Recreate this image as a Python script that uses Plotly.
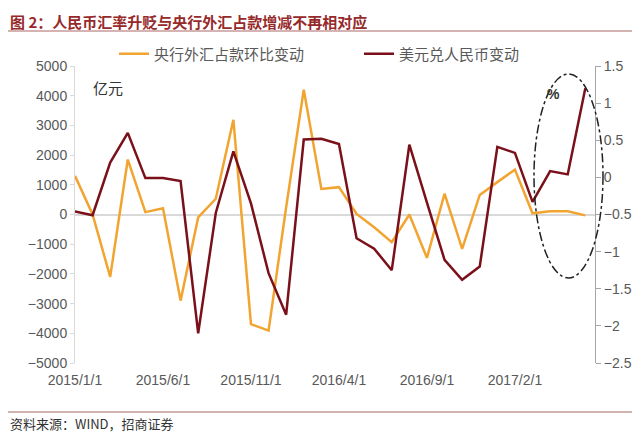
import plotly.graph_objects as go

months = [f"{2015 + (i // 12)}/{i % 12 + 1}/1" for i in range(30)]
fx_reserve_change = [1300, 0, -2100, 1850, 80, 210, -2900, -100, 530, 3190,
                     -3690, -3910, 250, 4200, 860, 920, 20, -430, -930, 0,
                     -1460, 700, -1160, 660, 1090, 1510, 40, 110, 110, -30]
usdcny_change = [-0.46, -0.51, 0.20, 0.60, -0.01, -0.01, -0.05, -2.10, -0.48, 0.35,
                 -0.35, -1.29, -1.85, 0.51, 0.52, 0.45, -0.82, -0.96, -1.25, 0.44,
                 -0.34, -1.11, -1.38, -1.20, 0.41, 0.33, -0.33, 0.085, 0.04, 1.20]
tick_labels = ["2015/1/1", "2015/6/1", "2015/11/1", "2016/4/1", "2016/9/1", "2017/2/1"]
left_ticks = [5000, 4000, 3000, 2000, 1000, 0, -1000, -2000, -3000, -4000, -5000]
right_ticks = [1.5, 1, 0.5, 0, -0.5, -1, -1.5, -2, -2.5]

ORANGE = "#F2A431"
DARKRED = "#7A1019"
TXT = "#595959"
CJK = "Noto Sans CJK SC"

# page has an 8px body margin: figure is drawn at page offset (8, 8)
OFF = 8
W, H = 640 - OFF, 435 - OFF
L, R, T, B = 75 - OFF, 45, 66 - OFF, 72
pw, ph = W - L - R, H - T - B


def px(xp):
    # page x pixel -> paper coordinate
    return (xp - OFF - L) / pw


def py(yp):
    # page y pixel -> paper coordinate
    return (H - B - (yp - OFF)) / ph


fig = go.Figure()
fig.add_trace(go.Scatter(x=months, y=fx_reserve_change, name="央行外汇占款环比变动",
                         mode="lines", line=dict(color=ORANGE, width=2.5), yaxis="y",
                         legend="legend"))
fig.add_trace(go.Scatter(x=months, y=usdcny_change, name="美元兑人民币变动",
                         mode="lines", line=dict(color=DARKRED, width=2.5), yaxis="y2",
                         legend="legend2"))

leg_common = dict(orientation="h", yanchor="middle", xanchor="left",
                  font=dict(family=CJK, size=15, color=TXT),
                  bgcolor="rgba(0,0,0,0)", itemwidth=30)

fig.update_layout(
    width=W, height=H,
    margin=dict(l=L, r=R, t=T, b=B, autoexpand=False),
    plot_bgcolor="white", paper_bgcolor="white",
    font=dict(family="Liberation Sans, Arial, " + CJK, size=14, color=TXT),
    showlegend=True,
    legend=dict(x=px(114), y=py(54), **leg_common),
    legend2=dict(x=px(359), y=py(54), **leg_common),
    xaxis=dict(type="category", range=[0, 29.55], tickmode="array",
               tickvals=tick_labels, ticktext=tick_labels, showgrid=False,
               showline=False, ticks="", zeroline=False, ticklabelstandoff=7,
               tickfont=dict(size=14, color=TXT)),
    yaxis=dict(range=[-5000, 5000], tickvals=left_ticks, showgrid=False,
               zeroline=True, zerolinecolor="#D9D9D9", zerolinewidth=1.5,
               showline=True, linecolor="#D9D9D9", linewidth=1,
               ticks="outside", ticklen=4, tickcolor="#D9D9D9",
               tickfont=dict(size=14, color=TXT)),
    yaxis2=dict(range=[-2.5, 1.5], tickvals=right_ticks, overlaying="y", side="right",
                showgrid=False, zeroline=False, showline=True, linecolor="#A6A6A6",
                linewidth=1, ticks="outside", ticklen=5, tickcolor="#A6A6A6",
                tickfont=dict(size=14, color=TXT)),
)

annotations = [
    dict(text="<b>图 2：人民币汇率升贬与央行外汇占款增减不再相对应</b>", xref="paper", yref="paper",
         x=px(OFF), y=py(OFF + 1), xanchor="left", yanchor="top", showarrow=False,
         font=dict(family=CJK, size=15, color="#962A2A")),
    dict(text="资料来源：WIND，招商证券", xref="paper", yref="paper",
         x=px(OFF), y=py(423), xanchor="left", yanchor="middle", showarrow=False,
         font=dict(family=CJK, size=13, color="#333333")),
    dict(text="亿元", xref="paper", yref="paper", x=px(91), y=py(87),
         xanchor="left", yanchor="middle", showarrow=False,
         font=dict(family=CJK, size=15, color="#333333")),
    dict(text="<b>%</b>", xref="paper", yref="paper", x=px(553), y=py(94),
         xanchor="center", yanchor="middle", showarrow=False,
         font=dict(family="Liberation Sans", size=14, color="#333333")),
]
fig.update_layout(annotations=annotations)

shapes = [
    dict(type="line", xref="paper", yref="paper", x0=px(OFF), x1=px(640), y0=py(31), y1=py(31),
         line=dict(color="#C89A9A", width=1.5)),
    dict(type="line", xref="paper", yref="paper", x0=px(OFF), x1=px(640), y0=py(412), y1=py(412),
         line=dict(color="#C89A9A", width=1.5)),
    dict(type="circle", xref="paper", yref="paper", x0=px(534), x1=px(603), y0=py(278), y1=py(74),
         line=dict(color="#222222", width=1.5, dash="dashdot")),
]
fig.update_layout(shapes=shapes)

fig.write_html("out.html")
